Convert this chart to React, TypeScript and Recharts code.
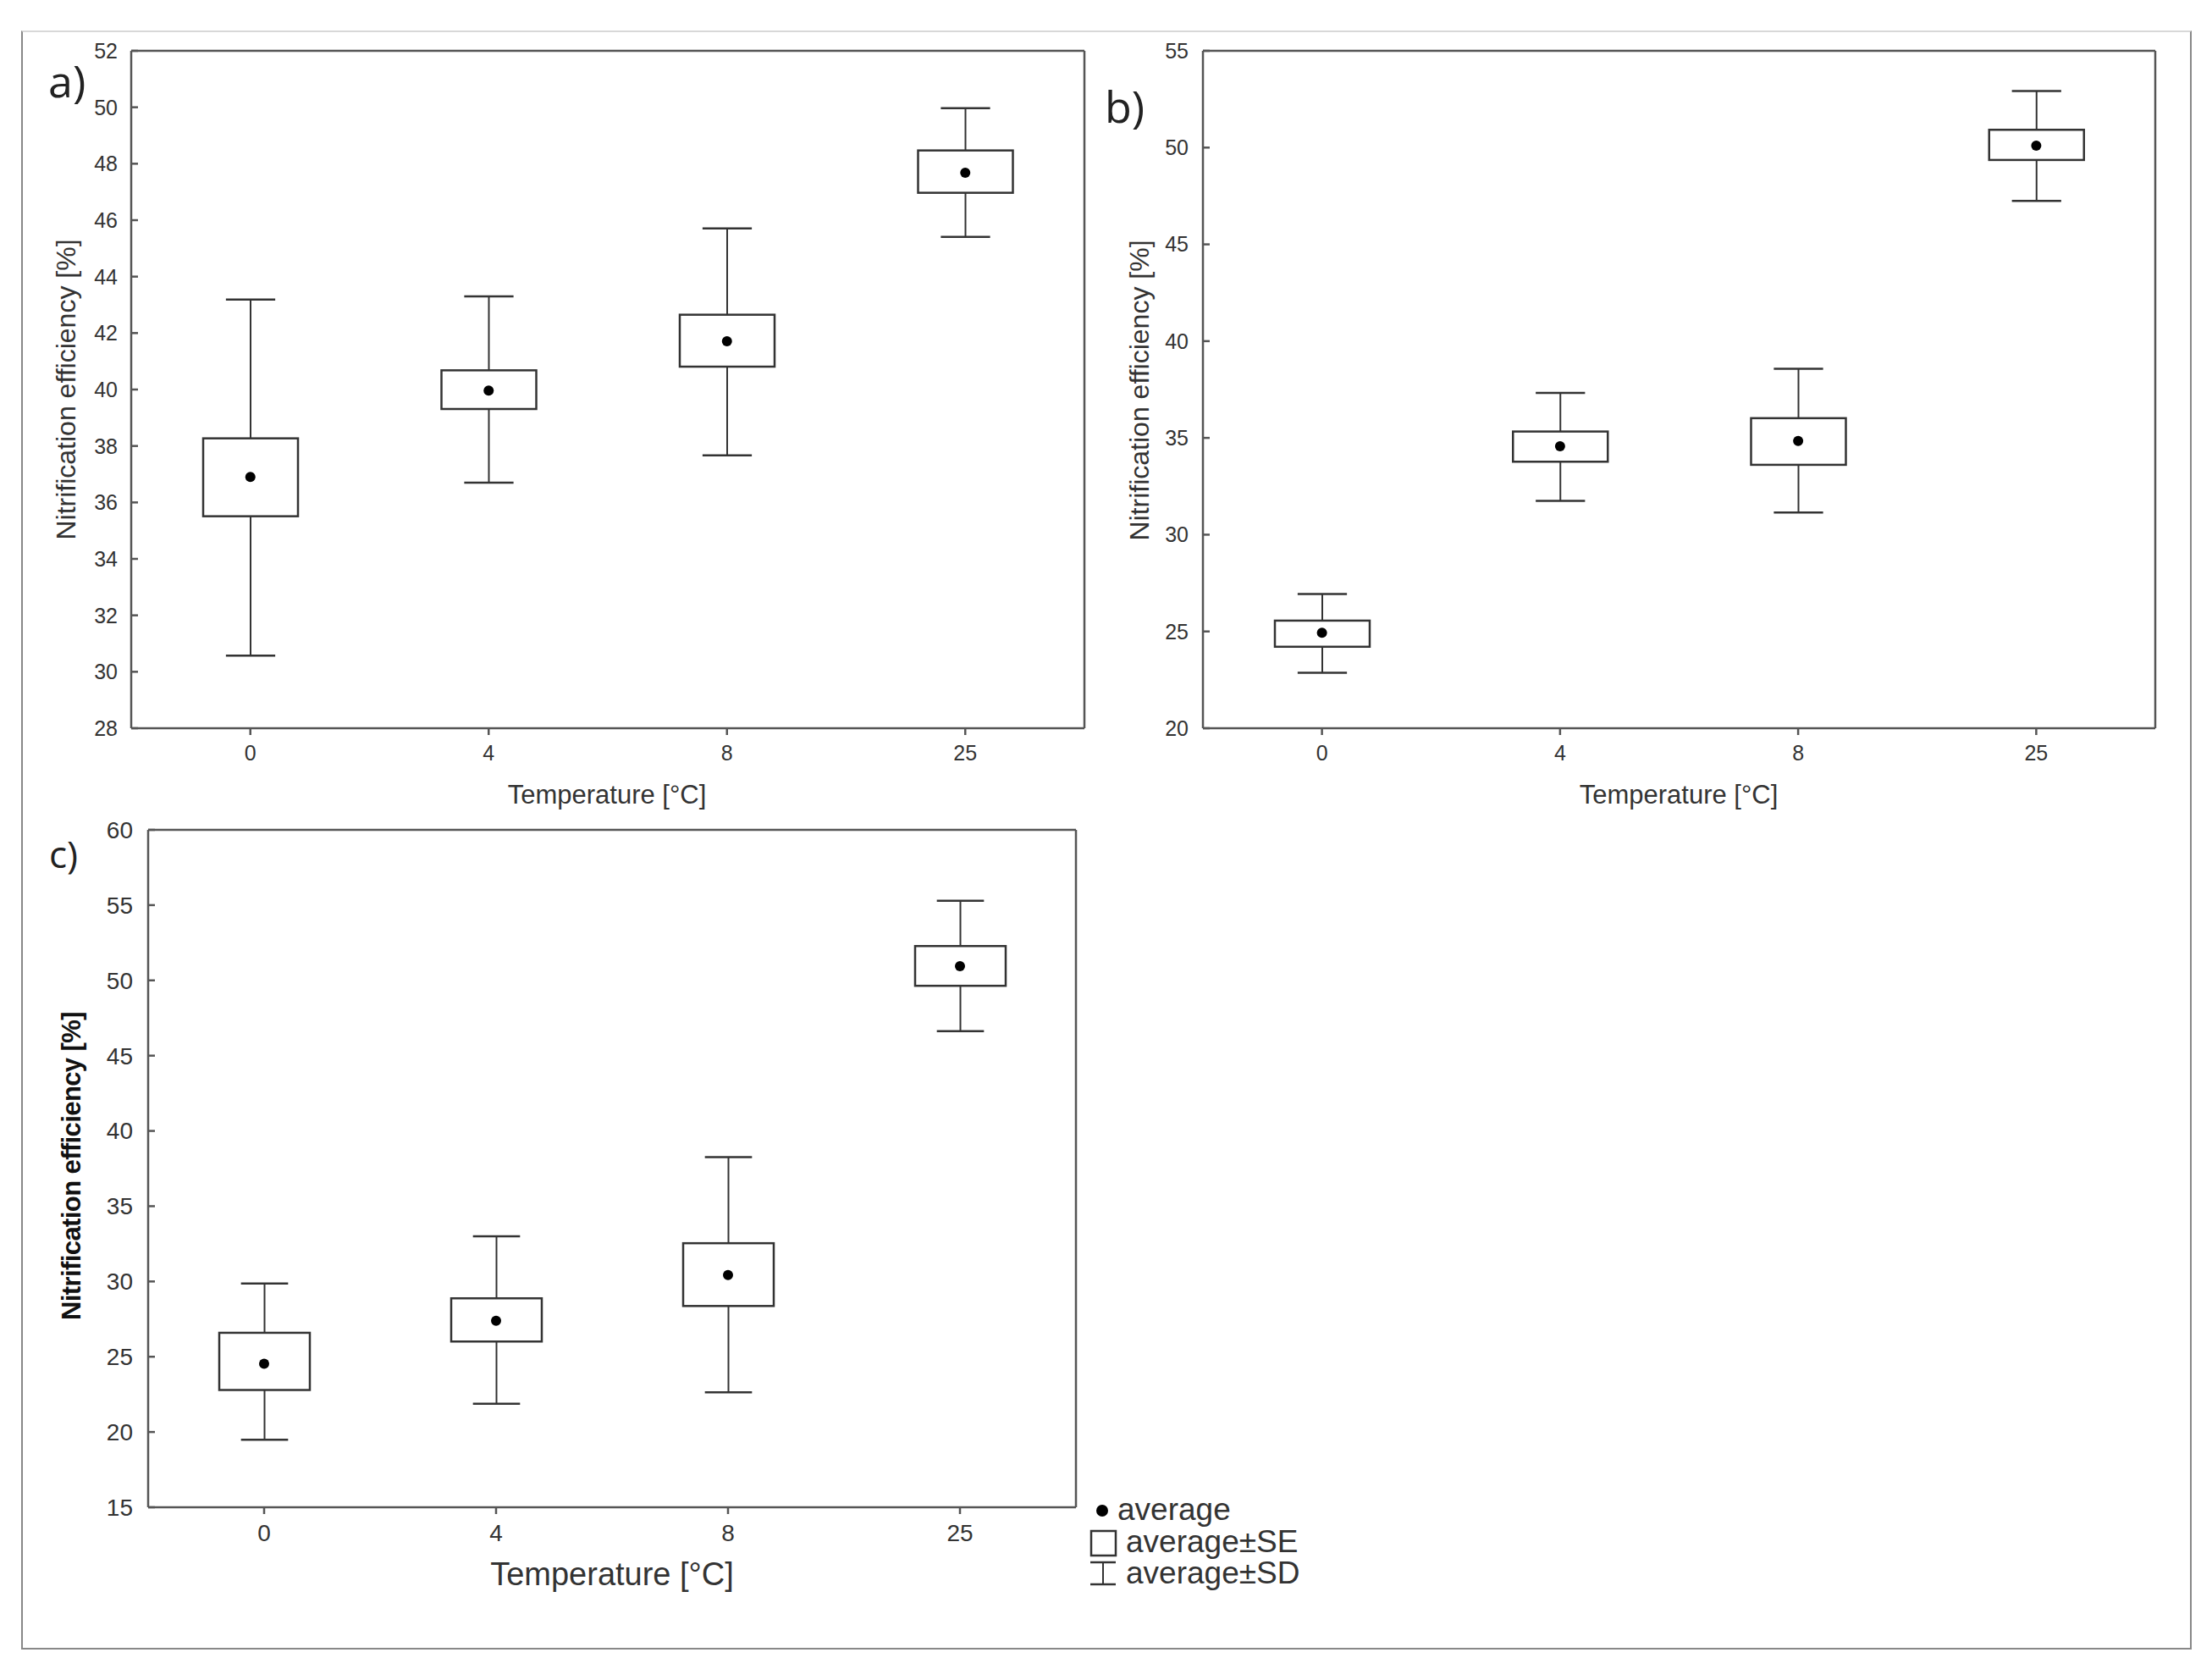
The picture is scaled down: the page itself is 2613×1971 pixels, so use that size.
import { ComposedChart, Bar, Line, XAxis, YAxis } from "recharts";

const TEMPS = ["0", "4", "8", "25"];

// a)
const meanA = [36.9, 39.96, 41.71, 47.68];
const seLowA = [35.51, 39.31, 40.81, 46.97];
const seHighA = [38.27, 40.68, 42.65, 48.47];
const sdLowA = [30.57, 36.7, 37.67, 45.41];
const sdHighA = [43.19, 43.3, 45.71, 49.97];
const ticksA = [28, 30, 32, 34, 36, 38, 40, 42, 44, 46, 48, 50, 52];

// b)
const meanB = [24.93, 34.57, 34.84, 50.1];
const seLowB = [24.21, 33.77, 33.61, 49.36];
const seHighB = [25.56, 35.33, 36.02, 50.92];
const sdLowB = [22.87, 31.75, 31.14, 47.25];
const sdHighB = [26.93, 37.33, 38.57, 52.92];
const ticksB = [20, 25, 30, 35, 40, 45, 50, 55];

// c)
const meanC = [24.53, 27.39, 30.43, 50.94];
const seLowC = [22.79, 26.01, 28.37, 49.64];
const seHighC = [26.59, 28.88, 32.54, 52.28];
const sdLowC = [19.49, 21.88, 22.64, 46.63];
const sdHighC = [29.86, 33.0, 38.26, 55.29];
const ticksC = [15, 20, 25, 30, 35, 40, 45, 50, 55, 60];

const build = (
  mean: number[],
  seLow: number[],
  seHigh: number[],
  sdLow: number[],
  sdHigh: number[]
) =>
  TEMPS.map((t, i) => ({
    temp: t,
    mean: mean[i],
    seLow: seLow[i],
    seHigh: seHigh[i],
    sdLow: sdLow[i],
    sdHigh: sdHigh[i],
  }));

const dataA = build(meanA, seLowA, seHighA, sdLowA, sdHighA);
const dataB = build(meanB, seLowB, seHighB, sdLowB, sdHighB);
const dataC = build(meanC, seLowC, seHighC, sdLowC, sdHighC);

const FONT = "'Liberation Sans', Arial, sans-serif";
const AXIS = "#555";
const INK = "#333";

// bar covers the SD range; the SE box is placed inside it on the same scale
const BoxShape = (props: any) => {
  const { x, y, width, height, payload } = props;
  const top = Math.min(y, y + height);
  const h = Math.abs(height);
  const k = h / (payload.sdHigh - payload.sdLow);
  const py = (v: number) => top + (payload.sdHigh - v) * k;
  const cx = x + width / 2;
  const cap = width * 0.26;
  const yHi = py(payload.sdHigh);
  const yLo = py(payload.sdLow);
  const boxTop = py(payload.seHigh);
  const boxBot = py(payload.seLow);
  return (
    <g>
      <line x1={cx} x2={cx} y1={yHi} y2={boxTop} stroke={INK} strokeWidth={2} />
      <line x1={cx} x2={cx} y1={boxBot} y2={yLo} stroke={INK} strokeWidth={2} />
      <line x1={cx - cap} x2={cx + cap} y1={yHi} y2={yHi} stroke={INK} strokeWidth={2.5} />
      <line x1={cx - cap} x2={cx + cap} y1={yLo} y2={yLo} stroke={INK} strokeWidth={2.5} />
      <rect x={x} y={boxTop} width={width} height={boxBot - boxTop} fill="#fff" stroke={INK} strokeWidth={2.5} />
    </g>
  );
};

type PanelProps = {
  data: any[];
  left: number;
  top: number;
  width: number;
  height: number;
  margin: { top: number; right: number; bottom: number; left: number };
  domain: [number, number];
  ticks: number[];
  rightTicks: number[];
  rightOut: boolean;
  topTicks: boolean;
  fontSize: number;
  boxWidth: number;
  yTickMargin: number;
};

function Panel(p: PanelProps) {
  return (
    <div style={{ position: "absolute", left: p.left, top: p.top }}>
      <ComposedChart width={p.width} height={p.height} data={p.data} margin={p.margin}>
        <XAxis
          xAxisId="bottom"
          dataKey="temp"
          height={50}
          stroke={AXIS}
          strokeWidth={2.5}
          tickSize={8}
          tickMargin={12}
          tick={{ fill: INK, fontSize: p.fontSize, fontFamily: FONT }}
          interval={0}
        />
        <XAxis
          xAxisId="top"
          dataKey="temp"
          orientation="top"
          height={10}
          stroke={AXIS}
          strokeWidth={2.5}
          tick={false}
          tickLine={p.topTicks}
          tickSize={-8}
          interval={0}
        />
        <YAxis
          yAxisId="left"
          type="number"
          domain={p.domain}
          ticks={p.ticks}
          interval={0}
          allowDataOverflow
          width={80}
          stroke={AXIS}
          strokeWidth={2.5}
          tickSize={-8}
          tickMargin={p.yTickMargin}
          tick={{ fill: INK, fontSize: p.fontSize, fontFamily: FONT }}
        />
        <YAxis
          yAxisId="right"
          orientation="right"
          type="number"
          domain={p.domain}
          ticks={p.rightTicks}
          interval={0}
          allowDataOverflow
          width={10}
          stroke={AXIS}
          strokeWidth={2.5}
          tick={false}
          tickSize={p.rightOut ? 7 : -7}
        />
        <Bar
          xAxisId="bottom"
          yAxisId="left"
          dataKey={(d: any) => [d.sdLow, d.sdHigh]}
          barSize={p.boxWidth}
          shape={(sp: any) => <BoxShape {...sp} />}
          isAnimationActive={false}
        />
        <Line
          xAxisId="bottom"
          yAxisId="left"
          dataKey="mean"
          stroke="none"
          dot={{ r: 6, fill: "#000", stroke: "none" }}
          activeDot={false}
          isAnimationActive={false}
        />
      </ComposedChart>
    </div>
  );
}

export default function App() {
  return (
    <div style={{ position: "absolute", left: 0, top: 0, width: 2613, height: 1971, background: "#fff" }}>
      <div
        style={{
          position: "absolute",
          left: 25,
          top: 36,
          width: 2560,
          height: 1908,
          border: "2px solid #888",
          borderTopColor: "#d8d8d8",
        }}
      />
      <Panel
        data={dataA}
        left={0}
        top={0}
        width={1320}
        height={960}
        margin={{ top: 50, right: 29, bottom: 50, left: 75 }}
        domain={[28, 52]}
        ticks={ticksA}
        rightTicks={[32.8, 37.6, 42.4, 47.2]}
        rightOut={true}
        topTicks={false}
        fontSize={25}
        boxWidth={112}
        yTickMargin={24}
      />
      <Panel
        data={dataB}
        left={1320}
        top={0}
        width={1293}
        height={960}
        margin={{ top: 50, right: 57, bottom: 50, left: 21 }}
        domain={[20, 55]}
        ticks={ticksB}
        rightTicks={ticksB}
        rightOut={false}
        topTicks={true}
        fontSize={25}
        boxWidth={112}
        yTickMargin={25}
      />
      <Panel
        data={dataC}
        left={0}
        top={960}
        width={1320}
        height={1000}
        margin={{ top: 10, right: 39, bottom: 130, left: 95 }}
        domain={[15, 60]}
        ticks={ticksC}
        rightTicks={ticksC}
        rightOut={false}
        topTicks={true}
        fontSize={28}
        boxWidth={107}
        yTickMargin={26}
      />
      <svg
        width={2613}
        height={1971}
        style={{ position: "absolute", left: 0, top: 0, pointerEvents: "none" }}
        fontFamily={FONT}
      >
        <text x={57} y={115} fontSize={52} fontFamily="'Open Sans', sans-serif" fill="#222">a)</text>
        <text x={1305} y={145} fontSize={52} fontFamily="'Open Sans', sans-serif" fill="#222">b)</text>
        <text x={58} y={1025} fontSize={44} fontFamily="'Open Sans', sans-serif" fill="#222">c)</text>

        <text x={717} y={949} fontSize={31} textAnchor="middle" fill={INK}>Temperature [°C]</text>
        <text x={1983} y={949} fontSize={31} textAnchor="middle" fill={INK}>Temperature [°C]</text>
        <text x={723} y={1872} fontSize={38} textAnchor="middle" fill={INK}>Temperature [°C]</text>

        <text transform="translate(78,460) rotate(-90)" fontSize={32} textAnchor="middle" dominantBaseline="central" fill={INK}>
          Nitrification efficiency [%]
        </text>
        <text transform="translate(1346,461) rotate(-90)" fontSize={32} textAnchor="middle" dominantBaseline="central" fill={INK}>
          Nitrification efficiency [%]
        </text>
        <text
          transform="translate(84,1377) rotate(-90)"
          fontSize={31}
          fontWeight="bold"
          letterSpacing={-0.6}
          textAnchor="middle"
          dominantBaseline="central"
          fill="#111"
        >
          Nitrification efficiency [%]
        </text>

        <circle cx={1302} cy={1784} r={7} fill="#000" />
        <text x={1320} y={1795} fontSize={37} fill={INK}>average</text>
        <rect x={1289} y={1808} width={29} height={29} fill="#fff" stroke={INK} strokeWidth={2.5} />
        <text x={1330} y={1833} fontSize={37} fill={INK}>average±SE</text>
        <line x1={1288} x2={1318} y1={1845} y2={1845} stroke={INK} strokeWidth={2.5} />
        <line x1={1303} x2={1303} y1={1845} y2={1871} stroke={INK} strokeWidth={2} />
        <line x1={1288} x2={1318} y1={1871} y2={1871} stroke={INK} strokeWidth={2.5} />
        <text x={1330} y={1870} fontSize={37} fill={INK}>average±SD</text>
      </svg>
    </div>
  );
}
